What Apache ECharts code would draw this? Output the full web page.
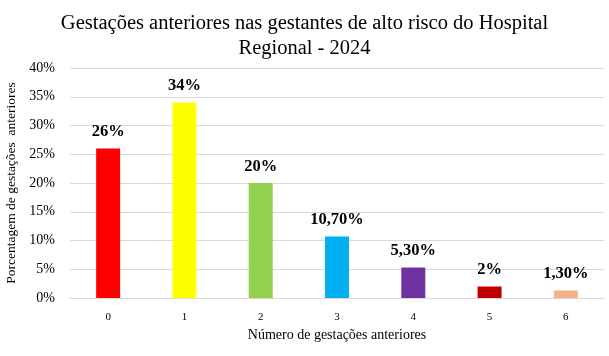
<!DOCTYPE html>
<html><head><meta charset="utf-8">
<script src="https://cdn.jsdelivr.net/npm/echarts@6/dist/echarts.min.js"></script>
<style>html,body{margin:0;padding:0;background:#fff}#c{width:609px;height:356px}</style>
</head><body><div id="c"></div>
<script>
const categories = ['0','1','2','3','4','5','6'];
const values = [26, 34, 20, 10.7, 5.3, 2, 1.3];
const valueLabels = ['26%','34%','20%','10,70%','5,30%','2%','1,30%'];
const colors = ['#FF0000','#FFFF00','#92D050','#00B0F0','#7030A0','#C00000','#F4B183'];
const yTicks = [0,5,10,15,20,25,30,35,40];

const F = '"Liberation Serif","Times New Roman",serif';
const chart = echarts.init(document.getElementById('c'));
chart.setOption({
  animation:false,
  title:{text:'Gestações anteriores nas gestantes de alto risco do Hospital\nRegional - 2024',left:'center',top:6,
    textStyle:{fontFamily:F,fontSize:20.5,fontWeight:'normal',color:'#000',lineHeight:25}},
  grid:{left:70,right:5,top:68,bottom:58,containLabel:false,outerBoundsMode:'none'},
  xAxis:{type:'category',data:categories,
    name:'Número de gestações anteriores',nameLocation:'middle',nameGap:27,
    nameTextStyle:{fontFamily:F,fontSize:14,color:'#000'},
    axisLine:{lineStyle:{color:'#d9d9d9'}},axisTick:{show:false},
    axisLabel:{fontFamily:F,fontSize:11,color:'#000',margin:14}},
  yAxis:{type:'value',min:0,max:40,interval:5,
    name:'Porcentagem de gestações  anteriores',nameLocation:'middle',nameGap:51,
    nameTextStyle:{fontFamily:F,fontSize:13.5,color:'#000'},
    axisLine:{show:false},axisTick:{show:false},
    splitLine:{lineStyle:{color:'#d9d9d9'}},
    axisLabel:{fontFamily:F,fontSize:14,color:'#000',margin:15,
      formatter:v=>yTicks.includes(v)?v+'%':''}},
  series:[{type:'bar',barWidth:24,
    data:values.map((v,i)=>({value:v,itemStyle:{color:colors[i]}})),
    label:{show:true,position:'top',distance:8,fontFamily:F,fontSize:16.5,fontWeight:'bold',color:'#000',
      formatter:p=>valueLabels[p.dataIndex]}}]
});
</script></body></html>
